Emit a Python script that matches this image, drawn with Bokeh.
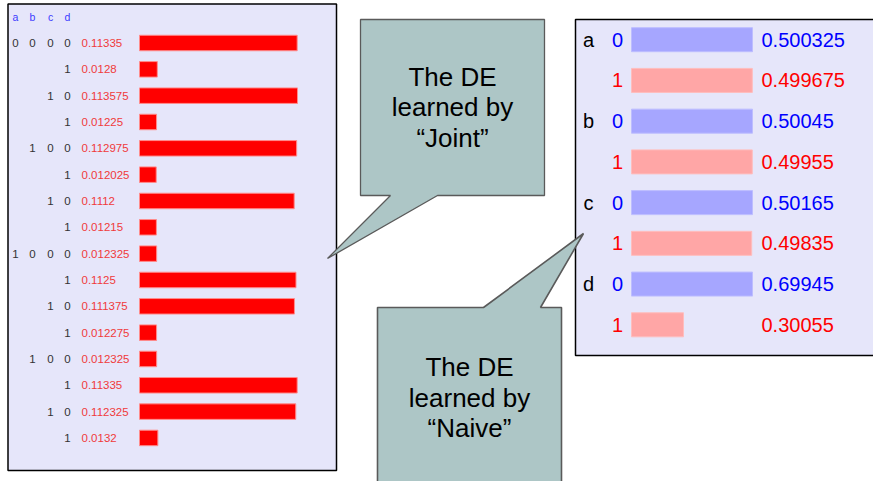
from bokeh.plotting import figure
from bokeh.models import Range1d, ColumnDataSource
from bokeh.core.properties import value
from bokeh.embed import file_html
from bokeh.resources import INLINE

# ---------------- data ----------------
variables = ["a", "b", "c", "d"]
joint_states = ["0000", "0001", "0010", "0011", "0100", "0101", "0110", "0111",
                "1000", "1001", "1010", "1011", "1100", "1101", "1110", "1111"]
joint_probs = [0.11335, 0.0128, 0.113575, 0.01225, 0.112975, 0.012025, 0.1112, 0.01215,
               0.012325, 0.1125, 0.111375, 0.012275, 0.012325, 0.11335, 0.112325, 0.0132]
joint_labels = ["0.11335", "0.0128", "0.113575", "0.01225", "0.112975", "0.012025", "0.1112", "0.01215",
                "0.012325", "0.1125", "0.111375", "0.012275", "0.012325", "0.11335", "0.112325", "0.0132"]

naive_vars = ["a", "a", "b", "b", "c", "c", "d", "d"]
naive_vals = ["0", "1", "0", "1", "0", "1", "0", "1"]
naive_probs = [0.500325, 0.499675, 0.50045, 0.49955, 0.50165, 0.49835, 0.69945, 0.30055]
naive_labels = ["0.500325", "0.499675", "0.50045", "0.49955", "0.50165", "0.49835", "0.69945", "0.30055"]

callout_joint = ["The DE", "learned by", "\u201cJoint\u201d"]
callout_naive = ["The DE", "learned by", "\u201cNaive\u201d"]

# ---------------- figure (coordinates = screen pixels) ----------------
W, H = 873, 481
X0, Y0 = 0, 0
p = figure(width=W, height=H, x_range=Range1d(X0, X0 + W), y_range=Range1d(Y0 + H, Y0),
           output_backend="svg", toolbar_location=None, min_border=0)
p.axis.visible = False
p.grid.visible = False
p.outline_line_color = None
p.background_fill_color = "white"
p.border_fill_color = "white"

FONT = value("Liberation Sans")

# joint scales
j_x0, j_ref_px = 139, 158.0
j_scale = j_ref_px / max(joint_probs)
j_row0, j_step = 42.5, 26.33
p.extra_x_ranges["joint"] = Range1d((X0 - j_x0) / j_scale, (X0 + W - j_x0) / j_scale)
p.extra_y_ranges["jrow"] = Range1d((Y0 + H - j_row0) / j_step, (Y0 - j_row0) / j_step)

# naive scales
n_x0, n_full = 631, 121.0
n_row0, n_step = 39.2, 40.73
p.extra_x_ranges["naive"] = Range1d((X0 - n_x0) / n_full, (X0 + W - n_x0) / n_full)
p.extra_y_ranges["nrow"] = Range1d((Y0 + H - n_row0) / n_step, (Y0 - n_row0) / n_step)

# ---------------- left panel ----------------
p.quad(left=7.5, right=336, top=3.5, bottom=470, fill_color="#E6E6FA", line_color="black", line_width=1.5)

col_x = [15, 32, 50, 67]
p.text(x=col_x, y=[16] * 4, text=variables, text_font=FONT, text_font_size="10.5px",
       text_align="center", text_baseline="middle", text_color="#3B3BFF")

jrows = list(range(len(joint_states)))
p.hbar(y=jrows, left=0, right=joint_probs, height=15.5 / j_step, x_range_name="joint",
       y_range_name="jrow", fill_color="#FF0000", line_color="#FF8C8C", line_width=1)

dx, dy, dt = [], [], []
prev = None
for i, s in enumerate(joint_states):
    start = 0
    if prev is not None:
        start = next(k for k in range(4) if s[k] != prev[k])
    for k in range(start, 4):
        dx.append(col_x[k]); dy.append(i); dt.append(s[k])
    prev = s
p.text(x=dx, y=dy, text=dt, y_range_name="jrow", text_font=FONT, text_font_size="11.5px",
       text_align="center", text_baseline="middle", text_color="#333333")
p.text(x=[81] * len(jrows), y=jrows, text=joint_labels, y_range_name="jrow", text_font=FONT,
       text_font_size="11.5px", text_align="left", text_baseline="middle", text_color="#F03A3A")

# ---------------- right panel ----------------
p.quad(left=575, right=900, top=19, bottom=355, fill_color="#E6E6FA", line_color="black", line_width=1.5)

nrows = list(range(len(naive_probs)))
var_max = {v: max(pr for vv, pr in zip(naive_vars, naive_probs) if vv == v) for v in variables}
norm = [pr / var_max[v] for v, pr in zip(naive_vars, naive_probs)]
bar_fill = ["#A6A6FF" if v == "0" else "#FFA6A6" for v in naive_vals]
bar_line = ["#BDBDFF" if v == "0" else "#FFBDBD" for v in naive_vals]
txt_col = ["#0000FF" if v == "0" else "#FF0000" for v in naive_vals]
nsrc = ColumnDataSource(dict(y=nrows, right=norm, fill=bar_fill, line=bar_line, tc=txt_col,
                             val=naive_vals, lab=naive_labels))
p.hbar(y="y", left=0, right="right", height=24 / n_step, source=nsrc, x_range_name="naive",
       y_range_name="nrow", fill_color="fill", line_color="line", line_width=1)

lx, ly, lt = [], [], []
for i, (v, s) in enumerate(zip(naive_vars, naive_vals)):
    if s == "0":
        lx.append(588); ly.append(i); lt.append(v)
p.text(x=lx, y=ly, text=lt, y_range_name="nrow", text_font=FONT, text_font_size="20px",
       text_align="center", text_baseline="middle", text_color="black")
p.text(x=617, y="y", text="val", source=nsrc, y_range_name="nrow", text_font=FONT,
       text_font_size="20px", text_align="center", text_baseline="middle", text_color="tc")
p.text(x=761, y="y", text="lab", source=nsrc, y_range_name="nrow", text_font=FONT,
       text_font_size="20px", text_align="left", text_baseline="middle", text_color="tc")

# ---------------- callouts ----------------
CALL_FILL = "#ADC6C6"
CALL_LINE = "#5A5A5A"
p.patch(x=[360, 544, 544, 437, 327, 390, 360], y=[19, 19, 195, 195, 258, 195, 195],
        fill_color=CALL_FILL, line_color=CALL_LINE, line_width=1.3)
p.patch(x=[377, 483, 583, 540, 561, 561, 377], y=[307, 307, 233, 307, 307, 495, 495],
        fill_color=CALL_FILL, line_color=CALL_LINE, line_width=1.6)

p.text(x=[452] * 3, y=[76, 106.7, 137.5], text=callout_joint, text_font=FONT, text_font_size="26px",
       text_align="center", text_baseline="middle", text_color="black")
p.text(x=[469] * 3, y=[366.7, 397, 427.5], text=callout_naive, text_font=FONT, text_font_size="26px",
       text_align="center", text_baseline="middle", text_color="black")

open("out.html", "w").write(file_html(p, INLINE))
